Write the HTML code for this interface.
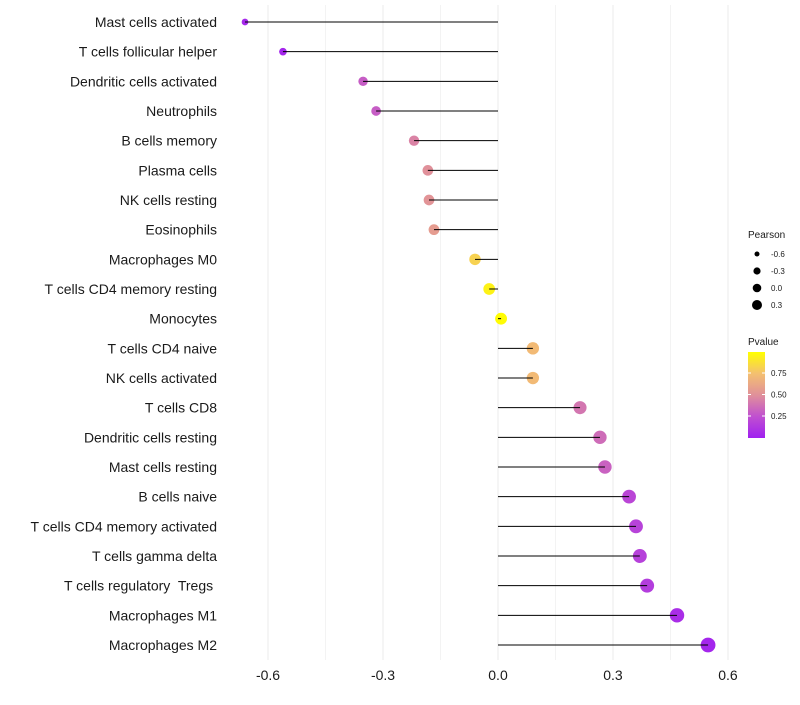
<!DOCTYPE html>
<html><head><meta charset="utf-8"><style>
body{margin:0;background:#fff;font-family:"Liberation Sans",sans-serif}
text{white-space:pre}
</style></head><body>
<svg id="chart" width="800" height="700" xmlns="http://www.w3.org/2000/svg" style="font-family:'Liberation Sans',sans-serif"></svg>
<script>
const categories=["Mast cells activated","T cells follicular helper","Dendritic cells activated","Neutrophils","B cells memory","Plasma cells","NK cells resting","Eosinophils","Macrophages M0","T cells CD4 memory resting","Monocytes","T cells CD4 naive","NK cells activated","T cells CD8","Dendritic cells resting","Mast cells resting","B cells naive","T cells CD4 memory activated","T cells gamma delta","T cells regulatory  Tregs ","Macrophages M1","Macrophages M2"];
const pearson=[-0.66,-0.561,-0.352,-0.318,-0.219,-0.183,-0.18,-0.167,-0.06,-0.023,0.008,0.091,0.091,0.214,0.266,0.279,0.342,0.36,0.37,0.389,0.467,0.548];
const pvalues=[0.04,0.03,0.3,0.3,0.45,0.5,0.52,0.56,0.82,0.95,0.99,0.72,0.72,0.4,0.36,0.32,0.2,0.18,0.17,0.15,0.07,0.03];
const xTicks=[-0.6,-0.3,0.0,0.3,0.6];
const xTickLabels=["-0.6","-0.3","0.0","0.3","0.6"];
const legendSizes=[-0.6,-0.3,0.0,0.3];
const legendSizeLabels=["-0.6","-0.3","0.0","0.3"];
const legendP=[0.25,0.5,0.75];
const legendPLabels=["0.25","0.50","0.75"];

const svg=document.getElementById('chart');
const NS="http://www.w3.org/2000/svg";
function mk(t,a,p){const e=document.createElementNS(NS,t);for(const k in a)e.setAttribute(k,a[k]);(p||svg).appendChild(e);return e;}
const X=v=>498+v*383.33;
const Y=i=>22+i*29.667;
const R=v=>Math.max(2.5,Math.sqrt(Math.max(0,35+36*v)));
const stops=[[0,[160,32,240]],[0.25,[192,80,208]],[0.5,[224,144,154]],[0.75,[244,192,112]],[1,[255,255,0]]];
function col(p){for(let i=1;i<stops.length;i++){if(p<=stops[i][0]){const a=stops[i-1],b=stops[i];const t=(p-a[0])/(b[0]-a[0]);const c=a[1].map((x,j)=>Math.round(x+(b[1][j]-x)*t));return `rgb(${c})`;}}return 'rgb(255,255,0)';}

for(let g=-0.6;g<=0.61;g+=0.15){
 const l=mk('line',{x1:X(g),x2:X(g),y1:5,y2:660,stroke:'#ebebeb','stroke-width':(Math.abs(Math.round(g*100)%30)<1?1:0.6)});
 
 
}
xTicks.forEach((t,i)=>{
 const e=mk('text',{x:X(t),y:680,'text-anchor':'middle','font-size':14,fill:'#1a1a1a'});
 e.textContent=xTickLabels[i];
 
 
});
categories.forEach((c,i)=>{
 const y=Y(i);
 const t=mk('text',{x:217,y:y+5,'text-anchor':'end','font-size':14,fill:'#1a1a1a'});
 t.textContent=c;
 
 
 const pt=mk('circle',{cx:X(pearson[i]),cy:y,r:R(pearson[i]),fill:col(pvalues[i])});
 
 
 const s=mk('line',{x1:X(0),x2:X(pearson[i]),y1:y,y2:y,stroke:'#000','stroke-width':1});
 
 
});
const lt=mk('text',{x:748,y:238,'font-size':10,fill:'#1a1a1a'});lt.textContent='Pearson';


const lr=[2.5,3.6,4.3,5.0];
legendSizes.forEach((v,i)=>{
 const y=254+i*17;
 const c=mk('circle',{cx:757,cy:y,r:lr[i],fill:'#000'});
 
 
 const t=mk('text',{x:771,y:y+3,'font-size':8,fill:'#1a1a1a'});t.textContent=legendSizeLabels[i];
 
 
});
const ct=mk('text',{x:748,y:345,'font-size':10,fill:'#1a1a1a'});ct.textContent='Pvalue';


const defs=mk('defs',{});const gr=mk('linearGradient',{id:'pg',x1:0,y1:1,x2:0,y2:0},defs);
stops.forEach(s=>mk('stop',{offset:s[0],'stop-color':`rgb(${s[1]})`},gr));
const bar=mk('rect',{x:748,y:352,width:17,height:86,fill:'url(#pg)'});


const PY=p=>437.5-p*86;
legendP.forEach((p,i)=>{
 mk('line',{x1:748,x2:751,y1:PY(p),y2:PY(p),stroke:'#fff'});
 mk('line',{x1:762,x2:765,y1:PY(p),y2:PY(p),stroke:'#fff'});
 const t=mk('text',{x:771,y:PY(p)+3,'font-size':8,fill:'#1a1a1a'});t.textContent=legendPLabels[i];
 
 
});
</script>
</body></html>
